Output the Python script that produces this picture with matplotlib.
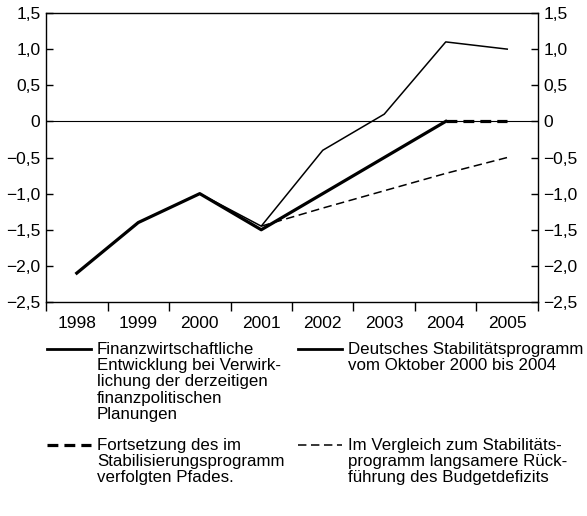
import matplotlib.pyplot as plt
from matplotlib.lines import Line2D
import numpy as np

plt.rcParams['font.family'] = ['Liberation Sans', 'DejaVu Sans']

years = ["1998", "1999", "2000", "2001", "2002", "2003", "2004", "2005"]

# Finanzwirtschaftliche Entwicklung (thin solid)
finanz = [-2.1, -1.4, -1.0, -1.45, -0.4, 0.1, 1.1, 1.0]
# Deutsches Stabilitaetsprogramm Okt. 2000 bis 2004 (thick solid)
stabi = [-2.1, -1.4, -1.0, -1.5, -1.0, -0.5, 0.0]
# Fortsetzung des Pfades (thick dashed), 2004-2005
fort_years = ["2004", "2005"]
fort = [0.0, 0.0]
# langsamere Rueckfuehrung (thin dashed), 2001-2005
lang_years = ["2001", "2002", "2003", "2004", "2005"]
lang = [-1.45, -1.2, -0.96, -0.72, -0.5]

yticks = [1.5, 1.0, 0.5, 0, -0.5, -1.0, -1.5, -2.0, -2.5]

legend_labels = [
    "Finanzwirtschaftliche\nEntwicklung bei Verwirk-\nlichung der derzeitigen\nfinanzpolitischen\nPlanungen",
    "Deutsches Stabilitätsprogramm\nvom Oktober 2000 bis 2004",
    "Fortsetzung des im\nStabilisierungsprogramm\nverfolgten Pfades.",
    "Im Vergleich zum Stabilitäts-\nprogramm langsamere Rück-\nführung des Budgetdefizits",
]

FS = 12.2


def fmt(v):
    if v == 0:
        return "0"
    s = f"{abs(v):.1f}".replace(".", ",")
    return ("\u2212" + s) if v < 0 else s


fig = plt.figure(figsize=(5.87, 5.16), dpi=100)
ax = fig.add_axes([0.0784, 0.4147, 0.8381, 0.5601])

xi = {y: i for i, y in enumerate(years)}
ax.axhline(0, color='black', lw=0.8, zorder=1)
ax.plot([xi[y] for y in years], finanz, color='black', lw=1.1)
ax.plot([xi[y] for y in years[:len(stabi)]], stabi, color='black', lw=2.3)
ax.plot([xi[y] for y in fort_years], fort, color='black', lw=2.3, dashes=(3.4, 1.9))
ax.plot([xi[y] for y in lang_years], lang, color='black', lw=1.1, dashes=(5.5, 3))

ax.set_xlim(-0.5, len(years) - 0.5)
ax.set_ylim(-2.5, 1.5)

ax.set_xticks(np.arange(-0.5, len(years)))
ax.set_xticklabels([])
ax.set_xticks(np.arange(len(years)), minor=True)
ax.set_xticklabels(years, minor=True, fontsize=12.5)
ax.tick_params(axis='x', which='major', direction='out', length=6.5, width=1.0)
ax.tick_params(axis='x', which='minor', length=0, pad=10)

ax.set_yticks(yticks)
ax.set_yticklabels([fmt(v) for v in yticks], fontsize=12.5)
ax.tick_params(axis='y', direction='in', length=5, width=1.0, right=True,
               labelright=True, pad=4)

for s in ax.spines.values():
    s.set_linewidth(1.0)

# legend drawn by hand (figure pixel coordinates)
W, H = 587, 516
entries = [
    (47, 349, 2.0, None, legend_labels[0]),
    (298, 349, 2.0, None, legend_labels[1]),
    (47, 445, 2.3, (3.4, 1.9), legend_labels[2]),
    (298, 445, 1.1, (5.5, 3), legend_labels[3]),
]
for x0, y0, lw, dash, txt in entries:
    kw = dict(color='black', lw=lw, transform=fig.transFigure)
    if dash:
        kw['dashes'] = dash
    fig.add_artist(Line2D([x0 / W, (x0 + 44) / W], [1 - y0 / H, 1 - y0 / H], **kw))
    fig.text((x0 + 50) / W, 1 - (y0 - 7) / H, txt, fontsize=FS, va='top',
             ha='left', linespacing=1.1)

fig.savefig("out.png", dpi=100)
